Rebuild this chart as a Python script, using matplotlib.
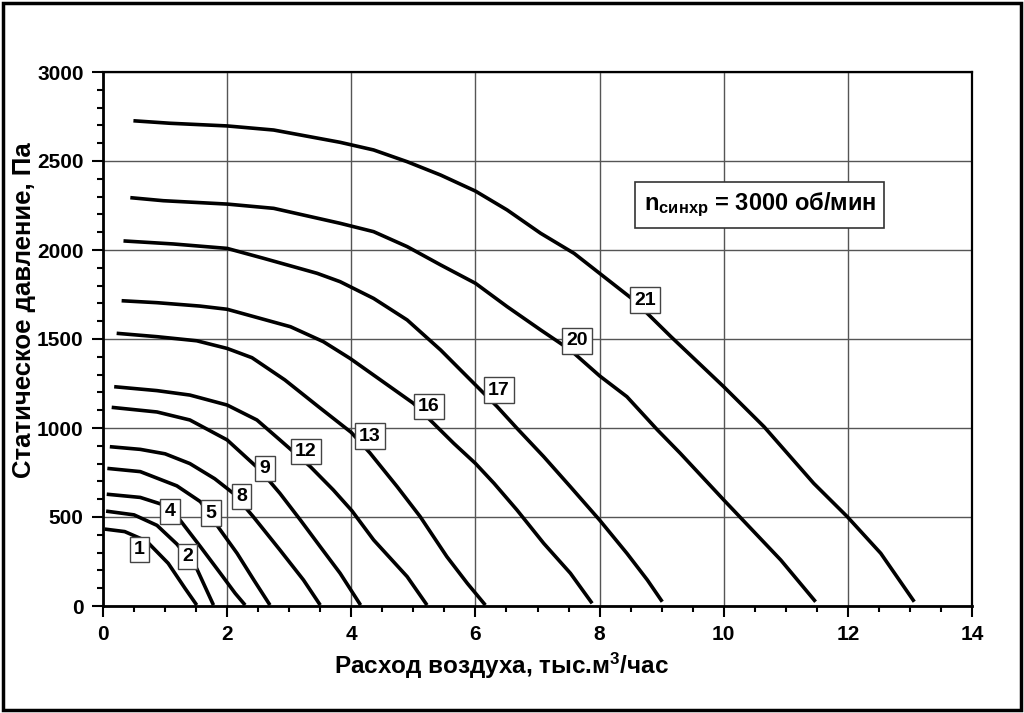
import matplotlib
matplotlib.use("Agg")
import matplotlib.pyplot as plt
from matplotlib.patches import Rectangle

# fan curves: air flow (thousand m3/h) vs static pressure (Pa)
q1 = [0.03, 0.35, 0.7, 1.05, 1.32, 1.51]
p1 = [432, 418, 365, 240, 100, 5]
q2 = [0.05, 0.5, 0.87, 1.19, 1.51, 1.78]
p2 = [533, 512, 453, 348, 210, 5]
q4 = [0.06, 0.6, 1.03, 1.24, 1.57, 1.89, 2.13, 2.29]
p4 = [628, 610, 562, 483, 333, 184, 71, 5]
q5 = [0.07, 0.6, 1.19, 1.57, 1.89, 2.16, 2.43, 2.69]
p5 = [773, 755, 675, 586, 427, 296, 146, 5]
q8 = [0.11, 0.6, 1.0, 1.4, 1.8, 2.1, 2.42, 2.85, 3.23, 3.5]
p8 = [895, 880, 855, 800, 715, 633, 502, 315, 146, 5]
q9 = [0.14, 0.87, 1.4, 2.0, 2.53, 2.85, 3.18, 3.5, 3.82, 4.15]
p9 = [1116, 1090, 1045, 933, 764, 633, 483, 333, 184, 5]
q12 = [0.18, 0.87, 1.4, 2.0, 2.48, 2.85, 3.34, 3.71, 4.01, 4.36, 4.9, 5.22]
p12 = [1232, 1210, 1185, 1129, 1045, 933, 783, 652, 535, 371, 165, 5]
q13 = [0.22, 0.87, 1.51, 2.0, 2.4, 2.93, 3.47, 4.0, 4.3, 4.74, 5.11, 5.54, 5.87, 6.16]
p13 = [1532, 1513, 1490, 1447, 1395, 1270, 1120, 975, 860, 670, 502, 277, 127, 5]
q16 = [0.3, 0.87, 1.56, 2.0, 3.02, 3.55, 3.98, 4.47, 5.0, 5.27, 5.65, 6.0, 6.3, 6.67, 7.1, 7.53, 7.88]
p16 = [1715, 1704, 1685, 1667, 1569, 1485, 1391, 1270, 1139, 1045, 914, 801, 689, 539, 352, 184, 15]
q17 = [0.33, 1.13, 2.0, 2.59, 3.45, 3.82, 4.36, 4.9, 5.44, 5.76, 6.35, 6.67, 7.1, 7.53, 8.0, 8.44, 8.77, 9.01]
p17 = [2051, 2034, 2009, 1953, 1869, 1822, 1728, 1607, 1438, 1326, 1120, 998, 839, 670, 483, 296, 146, 24]
q20 = [0.44, 0.97, 2.0, 2.75, 3.82, 4.36, 4.9, 5.44, 6.0, 6.51, 7.05, 7.53, 8.0, 8.44, 8.93, 9.3,
       10.0, 10.92, 11.48]
p20 = [2294, 2277, 2258, 2234, 2150, 2103, 2019, 1916, 1813, 1682, 1551, 1438, 1293, 1176, 990, 858,
       596, 258, 24]
q21 = [0.49, 1.08, 2.0, 2.75, 3.82, 4.36, 4.9, 5.44, 6.0, 6.51, 7.05, 7.59, 8.0, 8.55, 9.15, 10.0,
       10.65, 11.45, 11.99, 12.53, 13.07]
p21 = [2726, 2712, 2697, 2674, 2605, 2562, 2496, 2421, 2331, 2225, 2094, 1981, 1869, 1719, 1513, 1232,
       1007, 689, 502, 296, 24]

curve_names = ["1", "2", "4", "5", "8", "9", "12", "13", "16", "17", "20", "21"]
curves_q = [q1, q2, q4, q5, q8, q9, q12, q13, q16, q17, q20, q21]
curves_p = [p1, p2, p4, p5, p8, p9, p12, p13, p16, p17, p20, p21]

x_ticks = [0, 2, 4, 6, 8, 10, 12, 14]
y_ticks = [0, 500, 1000, 1500, 2000, 2500, 3000]

# where the number boxes sit
label_pos = [(0.59, 318), (1.36, 277), (1.08, 530), (1.74, 521), (2.23, 614),
             (2.61, 773), (3.27, 867), (4.3, 955), (5.25, 1120), (6.38, 1213),
             (7.64, 1489), (8.73, 1719)]

plt.rcParams['font.family'] = ['Liberation Sans', 'DejaVu Sans']
plt.rcParams['font.weight'] = 'bold'
plt.rcParams['mathtext.fontset'] = 'custom'
plt.rcParams['mathtext.rm'] = 'Liberation Sans:bold'
plt.rcParams['mathtext.it'] = 'Liberation Sans:bold'
plt.rcParams['mathtext.bf'] = 'Liberation Sans:bold'

fig = plt.figure(figsize=(10.24, 7.13), dpi=100)
ax = fig.add_axes([103 / 1024, 1 - 606 / 713, 869 / 1024, 534 / 713])

for q, p in zip(curves_q, curves_p):
    ax.plot(q, p, color='black', lw=2.6, solid_capstyle='butt',
            solid_joinstyle='round', zorder=3)

for name, (lx, ly) in zip(curve_names, label_pos):
    ax.text(lx, ly, name, ha='center', va='center', fontsize=14, fontweight='bold',
            zorder=4, bbox=dict(boxstyle='square,pad=0.22', fc='white', ec='#444444', lw=1))

ax.text(10.58, 2253, r'n$_{синхр}$ = 3000 об/мин', ha='center', va='center',
        fontsize=17, fontweight='bold', zorder=4,
        bbox=dict(boxstyle='square,pad=0.36', fc='white', ec='#333333', lw=1.2))

ax.set_xlim(0, 14)
ax.set_ylim(0, 3000)
ax.set_xticks(x_ticks)
ax.set_yticks(y_ticks)
ax.set_xticks([v / 2 for v in range(29)], minor=True)
ax.set_yticks(list(range(0, 3001, 100)), minor=True)
ax.tick_params(which='major', direction='out', length=8, width=1.5, pad=6, labelsize=15)
ax.tick_params(which='minor', direction='out', length=4, width=1.5)
ax.grid(True, which='major', color='#555555', lw=1)
ax.set_axisbelow(True)
for side in ['left', 'bottom']:
    ax.spines[side].set_linewidth(2)
for side in ['top', 'right']:
    ax.spines[side].set_linewidth(1.6)

ax.set_xlabel('Расход воздуха, тыс.м$^3$/час', fontsize=17.5, fontweight='bold')
ax.set_ylabel('Статическое давление, Па', fontsize=18.5, fontweight='bold')
ax.xaxis.set_label_coords(0.459, -0.083)
ax.yaxis.set_label_coords(-0.077, 0.554)

fig.patches.append(Rectangle((3 / 1024, 3 / 713), 1018 / 1024, 707 / 713,
                             transform=fig.transFigure, fill=False, ec='black', lw=2.5))

fig.savefig('out.png', dpi=100)
